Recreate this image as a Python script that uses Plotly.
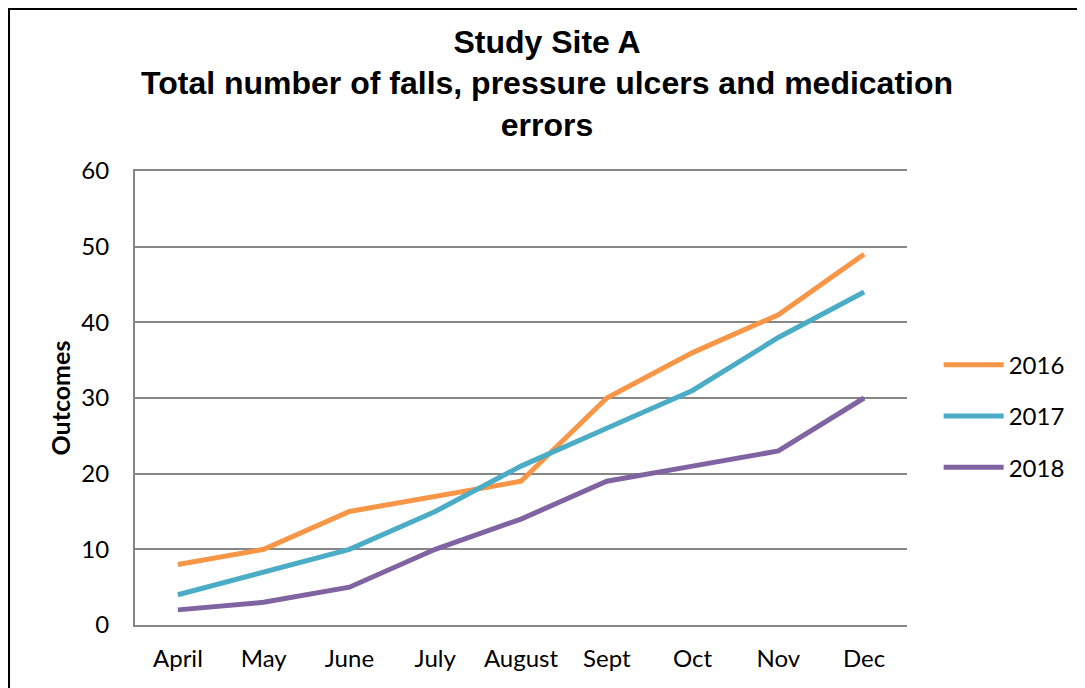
import plotly.graph_objects as go

months = ["April", "May", "June", "July", "August", "Sept", "Oct", "Nov", "Dec"]
y2016 = [8, 10, 15, 17, 19, 30, 36, 41, 49]
y2017 = [4, 7, 10, 15, 21, 26, 31, 38, 44]
y2018 = [2, 3, 5, 10, 14, 19, 21, 23, 30]

series = [
    ("2016", y2016, "#F79646"),
    ("2017", y2017, "#4BACC6"),
    ("2018", y2018, "#8064A2"),
]

fig = go.Figure()
for name, vals, color in series:
    fig.add_trace(
        go.Scatter(
            x=months,
            y=vals,
            name=name,
            mode="lines",
            line=dict(color=color, width=5),
            legendgroup=name,
        )
    )

tick_font = dict(family="Lato, Calibri, sans-serif", size=24, color="black")

# page body has an 8px margin, so the figure is 8px smaller than the window
fig.update_layout(
    width=1077,
    height=680,
    margin=dict(l=127, r=178, t=163, b=63),
    paper_bgcolor="white",
    plot_bgcolor="white",
    title=dict(
        text="Study Site A<br>Total number of falls, pressure ulcers and medication<br>errors",
        font=dict(family="Liberation Sans, Arial, sans-serif", size=32, color="black", weight="bold"),
        x=0.5005,
        xanchor="center",
        y=0.934,
        yanchor="top",
    ),
    legend=dict(
        x=1.041,
        y=0.46,
        xanchor="left",
        yanchor="middle",
        font=tick_font,
        tracegroupgap=17,
        itemwidth=60,
        bgcolor="rgba(0,0,0,0)",
    ),
    showlegend=True,
)

fig.update_xaxes(
    range=[-0.5, 8.5],
    showline=True,
    mirror=True,  # top border of the plot area (the 60 gridline)
    linecolor="#868686",
    linewidth=2,
    showgrid=False,
    ticks="",
    tickfont=tick_font,
    ticklabelstandoff=11,
)
fig.update_yaxes(
    range=[0, 60],
    dtick=10,
    showline=True,
    linecolor="#868686",
    linewidth=2,
    showgrid=True,
    gridcolor="#868686",
    gridwidth=2,
    zeroline=False,
    ticks="",
    tickfont=tick_font,
    ticklabelstandoff=19,
    title=dict(
        text="Outcomes",
        font=dict(family="Lato, Calibri, sans-serif", size=25, color="black", weight="bold"),
        standoff=4,
    ),
)

# outer frame (clipped on right and bottom like the original screenshot)
fig.add_shape(
    type="rect",
    xref="paper",
    yref="paper",
    x0=-0.1632,
    x1=1.5,
    y0=-0.5,
    y1=1.3568,
    line=dict(color="black", width=2),
    layer="below",
)

fig.write_html("out.html")
